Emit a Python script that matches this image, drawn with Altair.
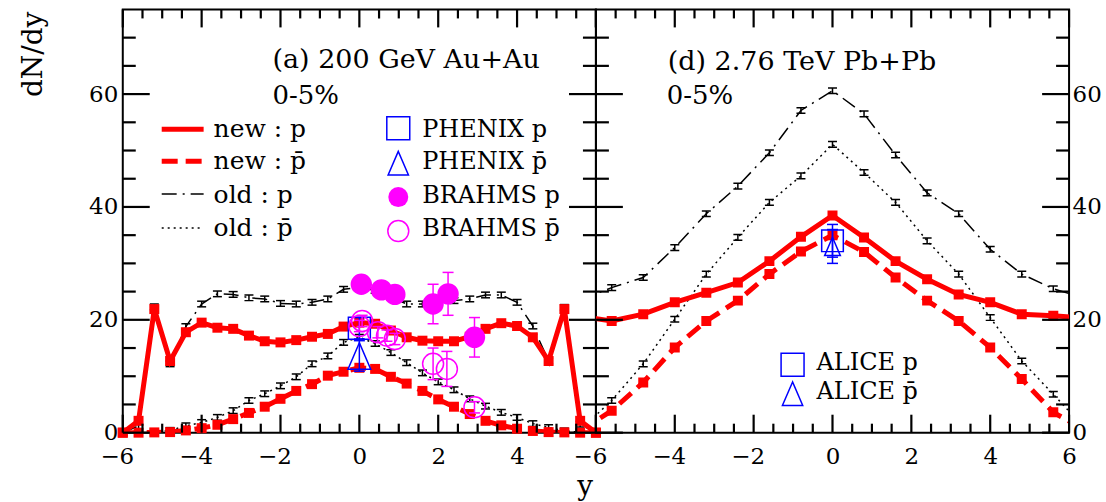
import altair as alt
import pandas as pd

# ---------------- panel (a): 200 GeV Au+Au ----------------
rap_a = [-6.0, -5.6, -5.2, -4.8, -4.4, -4.0, -3.6, -3.2, -2.8, -2.4, -2.0, -1.6, -1.2, -0.8, -0.4,
         0.0, 0.4, 0.8, 1.2, 1.6, 2.0, 2.4, 2.8, 3.2, 3.6, 4.0, 4.4, 4.8, 5.2, 5.6, 6.0]
new_p_a = [0.0, 2.1, 21.9, 12.7, 17.8, 19.5, 18.6, 18.4, 17.2, 16.2, 16.0, 16.4, 17.0, 17.5, 18.8,
           19.5, 19.3, 18.1, 16.9, 16.3, 16.2, 16.2, 17.0, 18.4, 19.4, 18.9, 16.9, 12.7, 21.9, 2.1, 0.0]
new_pbar_a = [0.0, 0.0, 0.05, 0.1, 0.4, 0.8, 1.4, 2.4, 3.5, 4.6, 6.0, 7.4, 8.6, 10.1, 10.8,
              11.5, 11.3, 9.9, 8.7, 7.4, 5.9, 4.6, 3.3, 2.1, 1.3, 0.7, 0.3, 0.1, 0.05, 0.0, 0.0]
old_p_a = [0.0, 1.2, 22.3, 12.2, 18.8, 22.8, 24.6, 24.5, 23.9, 23.7, 22.9, 22.8, 23.1, 23.7, 25.4,
           25.8, 25.2, 24.0, 22.8, 22.8, 22.9, 23.4, 23.7, 24.4, 24.4, 23.1, 18.9, 12.7, 22.2, 1.5, 0.0]
old_pbar_a = [0.0, 0.0, 0.1, 0.4, 1.2, 1.8, 2.7, 3.9, 5.7, 6.9, 8.3, 9.9, 12.2, 13.6, 16.0,
              16.9, 15.8, 14.2, 12.4, 10.6, 9.0, 7.6, 6.0, 4.7, 3.6, 2.7, 1.6, 0.9, 0.3, 0.1, 0.0]

phenix_x = [0.0]
phenix_p = [18.5]
phenix_p_err = [1.9]
phenix_pbar = [13.6]
phenix_pbar_err = [2.7]

brahms_p_x = [0.05, 0.56, 0.9, 1.87, 2.25, 2.92]
brahms_p = [26.3, 25.3, 24.5, 22.8, 24.6, 16.9]
brahms_p_err = [1.2, 1.2, 1.2, 3.5, 3.8, 3.5]
brahms_pbar_x = [0.0, 0.07, 0.47, 0.7, 0.9, 1.87, 2.22, 2.92]
brahms_pbar = [18.9, 19.8, 17.8, 17.2, 16.6, 12.2, 11.3, 4.5]
brahms_pbar_err = [1.0, 1.0, 1.0, 1.0, 1.0, 2.8, 3.1, 1.0]

# ---------------- panel (d): 2.76 TeV Pb+Pb ----------------
rap_d = [-6.4, -5.6, -4.8, -4.0, -3.2, -2.4, -1.6, -0.8, 0.0, 0.8, 1.6, 2.4, 3.2, 4.0, 4.8, 5.6, 6.4]
new_p_d = [20.6, 19.8, 21.0, 23.1, 24.8, 26.6, 30.4, 34.7, 38.5, 34.6, 30.4, 27.2, 24.5, 23.1, 21.0, 20.7, 20.3]
new_pbar_d = [0.3, 3.9, 8.9, 15.1, 19.8, 23.4, 28.1, 32.1, 35.0, 32.0, 27.5, 23.4, 19.8, 15.1, 9.5, 3.6, 0.5]
old_p_d = [23.5, 25.7, 27.5, 32.8, 38.8, 43.7, 49.6, 57.1, 60.6, 56.5, 49.2, 42.5, 38.8, 32.5, 28.1, 25.5, 23.8]
old_pbar_d = [0.5, 5.7, 12.2, 20.1, 28.1, 34.6, 40.8, 45.5, 51.1, 46.1, 40.8, 34.0, 28.1, 20.4, 12.7, 6.8, 0.8]

alice_x = [0.0]
alice_p = [34.0]
alice_p_err = [2.9]
alice_pbar = [33.0]
alice_pbar_err = [3.0]

# ---------------- texts ----------------
title_a = "(a) 200 GeV Au+Au"
title_d = "(d) 2.76 TeV Pb+Pb"
centrality = "0-5%"
legend_model = ["new : p", "new : p\u0304", "old : p", "old : p\u0304"]
legend_exp_a = ["PHENIX p", "PHENIX p\u0304", "BRAHMS p", "BRAHMS p\u0304"]
legend_exp_d = ["ALICE p", "ALICE p\u0304"]
y_title = "dN/dy"
x_title = "y"

x_major = [-6, -4, -2, 0, 2, 4, 6]
x_minor = [-5.5, -5, -4.5, -3.5, -3, -2.5, -1.5, -1, -0.5, 0.5, 1, 1.5, 2.5, 3, 3.5, 4.5, 5, 5.5]
y_major = [0, 20, 40, 60]
y_minor = [5, 10, 15, 25, 30, 35, 45, 50, 55, 65, 70]

# ---------------- styling ----------------
W, H = 474, 424
X0, X1, Y0, Y1 = -6.0, 6.0, 0.0, 75.0
FONT = "DejaVu Serif"
RED = "#ff0000"
BLUE = "#0000ff"
MAG = "#ff00ff"
TRI = "M0,-1L-0.86,1L0.86,1Z"

xscale = alt.Scale(domain=[X0, X1], nice=False, zero=False)
yscale = alt.Scale(domain=[Y0, Y1], nice=False, zero=False)


def frame_x(v):
    # position of a frame tick along the x edge (same linear map as xscale)
    return (v - X0) / (X1 - X0) * W


def frame_y(v):
    return H - (v - Y0) / (Y1 - Y0) * H


def build_panel(side):
    common_x = dict(ticks=False, domain=False, grid=False, labelFlush=False,
                    labelFont=FONT, labelFontSize=23, labelColor="black", labelPadding=13,
                    labelOffset={"condition": {"test": "datum.value < 0", "value": -6}, "value": 0},
                    title=None)
    common_y = dict(values=y_major, ticks=False, domain=False, grid=False, labelFlush=False,
                    labelFont=FONT, labelFontSize=23, labelColor="black", title=None)
    if side == "left":
        xaxis = alt.Axis(values=[-6, -4, -2, 0, 2, 4], **common_x)
        yaxis = alt.Axis(orient="left", labelPadding=5, **common_y)
    else:
        xaxis = alt.Axis(values=x_major, **common_x)
        yaxis = alt.Axis(orient="right", labelPadding=3, **common_y)

    def X(f):
        return alt.X(f"{f}:Q", scale=xscale, axis=xaxis, title=None)

    def Y(f):
        return alt.Y(f"{f}:Q", scale=yscale, axis=yaxis, title=None)

    layers = []
    one = pd.DataFrame({"k": [0]})

    if side == "left":
        # transparent frame pinning the full canvas size
        layers.append(alt.Chart(one).mark_rect(opacity=0).encode(
            x=alt.value(-122), x2=alt.value(984), y=alt.value(-8), y2=alt.value(494)))

    if side == "left":
        rap, np_, npb, op, opb = rap_a, new_p_a, new_pbar_a, old_p_a, old_pbar_a
        clip = False
    else:
        rap, np_, npb, op, opb = rap_d, new_p_d, new_pbar_d, old_p_d, old_pbar_d
        clip = True

    # model curves
    for vals, dash in [(op, [15, 6, 2, 6]), (opb, [2, 4])]:
        df = pd.DataFrame({"r": rap, "v": vals})
        df["lo"] = df["v"] - 0.5
        df["hi"] = df["v"] + 0.5
        layers.append(alt.Chart(df).mark_line(color="black", strokeWidth=1.5, strokeDash=dash, clip=True)
                      .encode(x=X("r"), y=Y("v")))
        layers.append(alt.Chart(df).mark_rule(color="black", strokeWidth=1.5, clip=clip)
                      .encode(x=X("r"), y=Y("lo"), y2="hi:Q"))
        layers.append(alt.Chart(df).mark_tick(orient="horizontal", size=9, thickness=1.5, color="black",
                                              opacity=1, clip=clip).encode(x=X("r"), y=Y("lo")))
        layers.append(alt.Chart(df).mark_tick(orient="horizontal", size=9, thickness=1.5, color="black",
                                              opacity=1, clip=clip).encode(x=X("r"), y=Y("hi")))
    for vals, dash in [(np_, None), (npb, [16, 8])]:
        df = pd.DataFrame({"r": rap, "v": vals})
        kw = dict(color=RED, strokeWidth=5, clip=True)
        if dash:
            kw["strokeDash"] = dash
        layers.append(alt.Chart(df).mark_line(**kw).encode(x=X("r"), y=Y("v")))
        layers.append(alt.Chart(df).mark_square(size=100, color=RED, opacity=1, clip=clip)
                      .encode(x=X("r"), y=Y("v")))

    def errbars(xv, yv, ev, color, cap=11):
        df = pd.DataFrame({"r": xv, "v": yv, "e": ev})
        df["lo"] = df["v"] - df["e"]
        df["hi"] = df["v"] + df["e"]
        return [
            alt.Chart(df).mark_rule(color=color, strokeWidth=1.5).encode(x=X("r"), y=Y("lo"), y2="hi:Q"),
            alt.Chart(df).mark_tick(orient="horizontal", size=cap, thickness=1.5, color=color, opacity=1)
            .encode(x=X("r"), y=Y("lo")),
            alt.Chart(df).mark_tick(orient="horizontal", size=cap, thickness=1.5, color=color, opacity=1)
            .encode(x=X("r"), y=Y("hi")),
        ], df

    def txt(s, x, y, size, align="left", angle=None):
        kw = dict(align=align, baseline="alphabetic", font=FONT, fontSize=size, color="black")
        if angle is not None:
            kw["angle"] = angle
        return alt.Chart(one).mark_text(**kw).encode(x=alt.value(x), y=alt.value(y), text=alt.value(s))

    if side == "left":
        # PHENIX
        eb, dfp = errbars(phenix_x, phenix_p, phenix_p_err, BLUE)
        layers += eb
        layers.append(alt.Chart(dfp).mark_point(shape="square", filled=False, size=484, strokeWidth=1.5,
                                                color=BLUE, opacity=1).encode(x=X("r"), y=Y("v")))
        eb, dfq = errbars(phenix_x, phenix_pbar, phenix_pbar_err, BLUE)
        layers += eb
        layers.append(alt.Chart(dfq).mark_point(shape=TRI, filled=False, size=700, strokeWidth=1.5,
                                                color=BLUE, opacity=1).encode(x=X("r"), y=Y("v")))
        # BRAHMS
        eb, dfb = errbars(brahms_p_x, brahms_p, brahms_p_err, MAG)
        layers += eb
        layers.append(alt.Chart(dfb).mark_circle(size=460, color=MAG, opacity=1).encode(x=X("r"), y=Y("v")))
        eb, dfc = errbars(brahms_pbar_x, brahms_pbar, brahms_pbar_err, MAG)
        layers += eb
        layers.append(alt.Chart(dfc).mark_point(shape="circle", filled=False, size=441, strokeWidth=1.5,
                                                color=MAG, opacity=1).encode(x=X("r"), y=Y("v")))

        # annotations
        layers.append(txt(title_a, 150, 59, 27))
        layers.append(txt(centrality, 150, 95, 26))
        layers.append(txt(y_title, -81, 45, 28, align="center", angle=270))
        layers.append(txt(x_title, 471, 486, 28, align="right"))

        # legend: model lines
        line_y = [120, 152, 185, 219]
        text_y = [128, 160, 194, 227]
        styles = [dict(color=RED, strokeWidth=5), dict(color=RED, strokeWidth=5, strokeDash=[16, 8]),
                  dict(color="black", strokeWidth=1.5, strokeDash=[15, 6, 2, 6]),
                  dict(color="black", strokeWidth=1.5, strokeDash=[2, 4])]
        for lab, ly, ty, st in zip(legend_model, line_y, text_y, styles):
            layers.append(alt.Chart(one).mark_rule(**st).encode(
                x=alt.value(39), x2=alt.value(81), y=alt.value(ly), y2=alt.value(ly)))
            layers.append(txt(lab, 91, ty, 25))
        # legend: data
        sym_y = [119, 154, 188, 222]
        marks = [
            dict(shape="square", filled=False, size=529, strokeWidth=1.5, color=BLUE, opacity=1),
            dict(shape=TRI, filled=False, size=560, strokeWidth=1.5, color=BLUE, opacity=1),
            dict(shape="circle", filled=True, size=400, color=MAG, opacity=1),
            dict(shape="circle", filled=False, size=440, strokeWidth=1.5, color=MAG, opacity=1),
        ]
        for lab, sy, ty, mk in zip(legend_exp_a, sym_y, text_y, marks):
            layers.append(alt.Chart(one).mark_point(**mk).encode(x=alt.value(276), y=alt.value(sy)))
            layers.append(txt(lab, 300, ty, 24))
    else:
        eb, dfa = errbars(alice_x, alice_p, alice_p_err, BLUE)
        layers += eb
        layers.append(alt.Chart(dfa).mark_point(shape="square", filled=False, size=470, strokeWidth=1.5,
                                                color=BLUE, opacity=1).encode(x=X("r"), y=Y("v")))
        eb, dfb = errbars(alice_x, alice_pbar, alice_pbar_err, BLUE)
        layers += eb
        layers.append(alt.Chart(dfb).mark_point(shape=TRI, filled=False, size=335, strokeWidth=1.5,
                                                color=BLUE, opacity=1).encode(x=X("r"), y=Y("v")))
        layers.append(txt(title_d, 72, 61, 27))
        layers.append(txt(centrality, 71, 95, 26))
        marks = [
            dict(shape="square", filled=False, size=529, strokeWidth=1.5, color=BLUE, opacity=1),
            dict(shape=TRI, filled=False, size=560, strokeWidth=1.5, color=BLUE, opacity=1),
        ]
        for lab, sy, ty, mk in zip(legend_exp_d, [356, 385], [361, 390], marks):
            layers.append(alt.Chart(one).mark_point(**mk).encode(x=alt.value(197), y=alt.value(sy)))
            layers.append(txt(lab, 221, ty, 24))

    # frame tick marks pointing inwards, drawn as thin filled rectangles
    def bar(xa, xb, ya, yb):
        return alt.Chart(one).mark_rect(color="black", opacity=1).encode(
            x=alt.value(min(xa, xb)), x2=alt.value(max(xa, xb)),
            y=alt.value(min(ya, yb)), y2=alt.value(max(ya, yb)))

    th = 1.1  # half thickness in pixels
    for vals, ln in [(x_major, 18), (x_minor, 9)]:
        for v in vals:
            p = frame_x(v)
            layers.append(bar(p - th, p + th, H - ln, H))
            layers.append(bar(p - th, p + th, 0, ln))
    for vals, ln in [(y_major, 27), (y_minor, 13)]:
        for v in vals:
            p = frame_y(v)
            layers.append(bar(0, ln, p - th, p + th))
            layers.append(bar(W - ln, W, p - th, p + th))

    return alt.layer(*layers).properties(width=W, height=H)


left = build_panel("left")
right = build_panel("right")

chart = (
    alt.hconcat(left, right, spacing=0, bounds="flush")
    .configure_view(stroke="black", strokeWidth=2)
    .properties(padding=0, background="white")
)

chart.save("out.html", embed_options={"renderer": "svg", "actions": False})
